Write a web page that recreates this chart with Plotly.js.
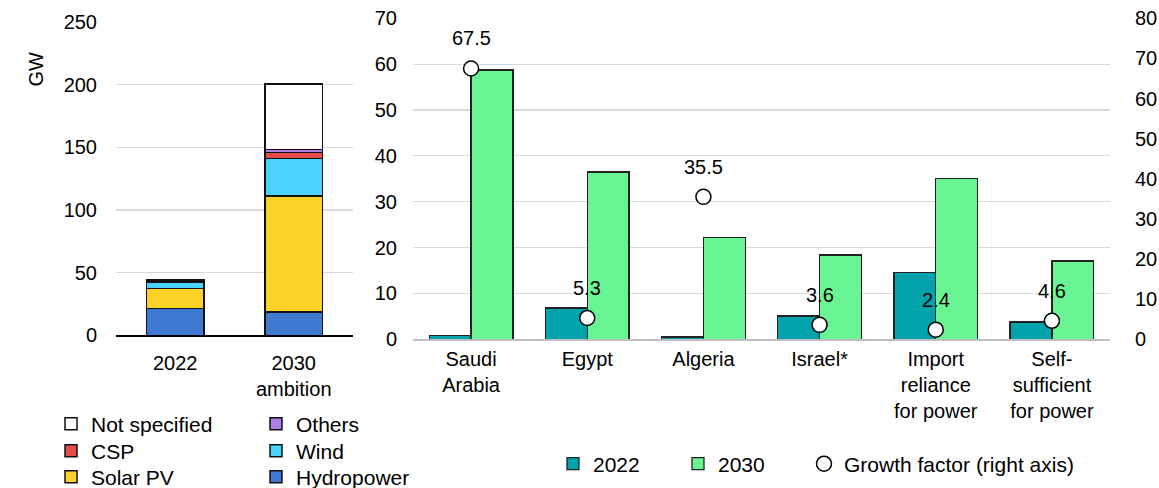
<!DOCTYPE html>
<html>
<head>
<meta charset="utf-8">
<script src="https://cdn.plot.ly/plotly-3.0.1.min.js"></script>
<style>html,body{margin:0;padding:0;background:#fff;}#chart{width:1159px;height:488px;}</style>
</head>
<body>
<div id="chart"></div>
<script>
// ---- Left panel: capacity by technology (GW) ----
const leftCategories = ["2022", "2030<br>ambition"];
const hydropower   = [21.2, 18.4];
const solarPV      = [16.3, 92.7];
const wind         = [5.0, 30.1];
const csp          = [0.8, 4.8];
const others       = [1.1, 2.4];
const notSpecified = [0.0, 52.3];

// ---- Right panel: by country / group ----
const rightCategories = ["Saudi<br>Arabia", "Egypt", "Algeria", "Israel*", "Import<br>reliance<br>for power", "Self-<br>sufficient<br>for power"];
const cap2022 = [0.8, 6.8, 0.5, 5.1, 14.5, 3.8];
const cap2030 = [58.7, 36.5, 22.2, 18.4, 35.0, 17.1];
const growthFactor = [67.5, 5.3, 35.5, 3.6, 2.4, 4.6];
const growthLabels = ["67.5", "5.3", "35.5", "3.6", "2.4", "4.6"];

const W = 1159, H = 488;
const px = v => v / W;
const py = v => 1 - v / H;
const FONT = "Liberation Sans, Arial, sans-serif";

const leftBarW = 0.485;
function stackTrace(name, vals, color, legend, rank) {
  return {
    type: "bar", name: name, x: leftCategories, y: vals,
    xaxis: "x", yaxis: "y", width: leftBarW,
    marker: {color: color, line: {color: "#111", width: 1.5}},
    legend: legend, legendrank: rank, hoverinfo: "skip"
  };
}

const traces = [
  stackTrace("Hydropower", hydropower, "#3D78D3", "legend3", 2),
  stackTrace("Solar PV", solarPV, "#FDD227", "legend3", 1),
  stackTrace("Wind", wind, "#4AD3FF", "legend2", 2),
  stackTrace("CSP", csp, "#E84B4B", "legend2", 1),
  stackTrace("Others", others, "#B07EE8", "legend", 2),
  stackTrace("Not specified", notSpecified, "#FFFFFF", "legend", 1),
  {
    type: "bar", name: "2022", x: rightCategories, y: cap2022,
    xaxis: "x2", yaxis: "y2", width: 0.36, offset: -0.36,
    marker: {color: "#00A3AC", line: {color: "#222", width: 1.3}},
    legend: "legend4", hoverinfo: "skip"
  },
  {
    type: "bar", name: "2030", x: rightCategories, y: cap2030,
    xaxis: "x2", yaxis: "y3", width: 0.36, offset: 0,
    marker: {color: "#6AF595", line: {color: "#222", width: 1.3}},
    legend: "legend4", hoverinfo: "skip"
  },
  {
    type: "scatter", mode: "markers", name: "Growth factor (right axis)",
    x: rightCategories, y: growthFactor, xaxis: "x2", yaxis: "y4",
    marker: {color: "#FFFFFF", size: 15, line: {color: "#000", width: 1.5}},
    legend: "legend5", hoverinfo: "skip"
  }
];

const annotations = rightCategories.map((c, i) => ({
  x: c, y: growthFactor[i], xref: "x2", yref: "y4",
  text: growthLabels[i], showarrow: false, yshift: 30,
  font: {family: FONT, size: 20, color: "#000"}
}));
annotations.push({
  x: px(22), y: py(50), xref: "paper", yref: "paper",
  text: "GW", textangle: -90, showarrow: false,
  font: {family: FONT, size: 20, color: "#000"}
});

const tickFont = {family: FONT, size: 20, color: "#000"};
const legendFont = {family: FONT, size: 21, color: "#000"};

function legendAt(xPx, yCenterPx, entryW) {
  return {
    x: px(xPx), y: py(yCenterPx), xanchor: "left", yanchor: "middle", orientation: "h",
    traceorder: "normal", font: legendFont, bgcolor: "rgba(0,0,0,0)", itemwidth: 30,
    entrywidth: entryW, itemclick: false, tracegroupgap: 0
  };
}

const layout = {
  width: W, height: H,
  margin: {l: 0, r: 0, t: 0, b: 0, autoexpand: false},
  paper_bgcolor: "#fff", plot_bgcolor: "rgba(0,0,0,0)",
  barmode: "stack",
  font: {family: FONT, size: 20, color: "#000"},
  xaxis: {
    domain: [px(116), px(353)], type: "category", categoryorder: "array", categoryarray: leftCategories,
    showline: true, linecolor: "#000", linewidth: 2, showgrid: false, zeroline: false,
    ticks: "", tickfont: tickFont, ticklabelstandoff: 9, automargin: false, fixedrange: true
  },
  yaxis: {
    domain: [py(335.3), py(22)], range: [0, 250], dtick: 50, tick0: 0,
    showgrid: true, gridcolor: "#D9D9D9", gridwidth: 1.2, zeroline: false, showline: false,
    ticks: "", tickfont: tickFont, ticklabelstandoff: 18, automargin: false, fixedrange: true
  },
  xaxis2: {
    domain: [px(413), px(1110)], type: "category", categoryorder: "array", categoryarray: rightCategories,
    anchor: "y2", showline: true, linecolor: "#BFBFBF", linewidth: 2, showgrid: false, zeroline: false,
    ticks: "", tickfont: tickFont, ticklabelstandoff: 1, automargin: false, fixedrange: true
  },
  yaxis2: {
    domain: [py(339.3), py(18.3)], anchor: "x2", range: [0, 70], dtick: 10, tick0: 0,
    showgrid: true, gridcolor: "#D9D9D9", gridwidth: 1.2, zeroline: false, showline: false,
    ticks: "", tickfont: tickFont, ticklabelstandoff: 15, automargin: false, fixedrange: true
  },
  yaxis3: {
    overlaying: "y2", anchor: "x2", matches: "y2", range: [0, 70],
    showgrid: false, showticklabels: false, zeroline: false, showline: false, ticks: "", fixedrange: true
  },
  yaxis4: {
    overlaying: "y2", anchor: "x2", side: "right", range: [0, 80], dtick: 10, tick0: 0,
    showgrid: false, zeroline: false, showline: false,
    ticks: "", tickfont: tickFont, ticklabelstandoff: 24, automargin: false, fixedrange: true
  },
  legend: legendAt(51, 424, 160),
  legend2: legendAt(51, 451, 160),
  legend3: legendAt(51, 477, 160),
  legend4: legendAt(553, 464, 80),
  legend5: legendAt(804, 464, 260),
  annotations: annotations,
  showlegend: true
};

Plotly.newPlot("chart", traces, layout, {staticPlot: true, displayModeBar: false});
</script>
</body>
</html>
